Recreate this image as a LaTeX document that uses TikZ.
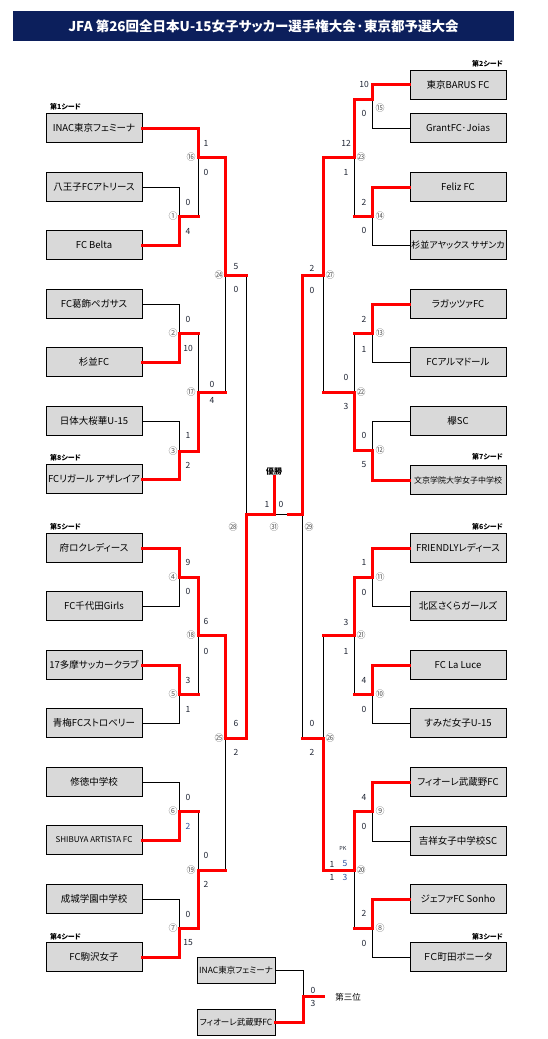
\documentclass[tikz,border=0pt]{standalone}
\usepackage{fontspec}
\setmainfont{Noto Sans CJK JP}[RawFeature=+palt]
\usepackage{tikz}
\usetikzlibrary{positioning, calc}
\definecolor{TitleNavy}{HTML}{0C1F5C}
\definecolor{BoxGray}{HTML}{D9D9D9}
\definecolor{WinRed}{HTML}{FF0000}
\definecolor{NoGray}{HTML}{5E5E5E}
\definecolor{ScoreInk}{HTML}{1E2433}
\definecolor{ScoreBlue}{HTML}{2A4FA0}

\begin{document}
\begin{tikzpicture}[x=1pt, y=-1pt,
    team/.style={draw=black, line width=0.8pt, fill=BoxGray, minimum width=96pt,
        minimum height=29pt, inner sep=0pt, font=\fontsize{9.5}{11}\selectfont},
    win/.style={draw=WinRed, line width=3pt, line cap=rect},
    lose/.style={draw=black, line width=0.9pt},
    score/.style={inner sep=0pt, font=\fontsize{8.5}{10}\selectfont, text=ScoreInk},
    matchno/.style={inner sep=0pt, font=\fontsize{9}{10}\selectfont, text=NoGray},
    seed/.style={inner sep=0pt, font=\bfseries\fontsize{7}{8}\selectfont}]

    \useasboundingbox (0,0) rectangle (548,1039);

    % === Title bar ===
    \node[fill=TitleNavy, text=white, minimum width=501pt, minimum height=30pt, inner sep=0pt,
        font=\bfseries\fontsize{13.5}{16}\selectfont] (title) at (263.5,26)
        {JFA 第26回全日本U-15女子サッカー選手権大会·東京都予選大会};

    % === Left half: teams ===
    \node[team] (L1) at (94,128) {INAC東京フェミーナ};
    \node[team] (L2) at (94,187) {八王子FCアトリース};
    \node[team] (L3) at (94,245) {FC Belta};
    \node[team] (L4) at (94,304) {FC葛飾ペガサス};
    \node[team] (L5) at (94,362) {杉並FC};
    \node[team] (L6) at (94,421) {日体大桜華U-15};
    \node[team] (L7) at (94,479) {FCリガール アザレイア};
    \node[team] (L8) at (94,548) {府ロクレディース};
    \node[team] (L9) at (94,606) {FC千代田Girls};
    \node[team] (L10) at (94,665) {17多摩サッカークラブ};
    \node[team] (L11) at (94,723) {青梅FCストロベリー};
    \node[team] (L12) at (94,782) {修徳中学校};
    \node[team, font=\fontsize{8}{10}\selectfont] (L13) at (94,840) {SHIBUYA ARTISTA FC};
    \node[team] (L14) at (94,899) {成城学園中学校};
    \node[team] (L15) at (94,957) {FC駒沢女子};

    % === Right half: teams ===
    \node[team] (R1) at (458,84.5) {東京BARUS FC};
    \node[team] (R2) at (458,128) {GrantFC·Joias};
    \node[team] (R3) at (458,187) {Feliz FC};
    \node[team, font=\fontsize{9}{11}\selectfont] (R4) at (458,245) {杉並アヤックス サザンカ};
    \node[team] (R5) at (458,304) {ラガッツァFC};
    \node[team] (R6) at (458,362) {FCアルマドール};
    \node[team] (R7) at (458,421) {欅SC};
    \node[team, font=\fontsize{8}{10}\selectfont] (R8) at (458,480) {文京学院大学女子中学校};
    \node[team] (R9) at (458,548) {FRIENDLYレディース};
    \node[team] (R10) at (458,606) {北区さくらガールズ};
    \node[team] (R11) at (458,665) {FC La Luce};
    \node[team] (R12) at (458,723) {すみだ女子U-15};
    \node[team] (R13) at (458,782) {フィオーレ武蔵野FC};
    \node[team] (R14) at (458,841) {吉祥女子中学校SC};
    \node[team] (R15) at (458,899) {ジェファFC Sonho};
    \node[team] (R16) at (458,957) {ＦＣ町田ボニータ};

    % === Third place teams ===
    \node[team, minimum width=78pt, minimum height=26pt, font=\fontsize{8.5}{10}\selectfont] (T1) at (236,970) {INAC東京フェミーナ};
    \node[team, minimum width=78pt, minimum height=26pt, font=\fontsize{8.5}{10}\selectfont] (T2) at (236,1022) {フィオーレ武蔵野FC};

    % === Seeds ===
    \node[seed, anchor=west] (s1) at (50,107) {第1シード};
    \node[seed, anchor=west] (s8) at (50,458) {第8シード};
    \node[seed, anchor=west] (s5) at (50,527) {第5シード};
    \node[seed, anchor=west] (s4) at (50,937) {第4シード};
    \node[seed, anchor=east] (s2) at (503,64) {第2シード};
    \node[seed, anchor=east] (s7) at (503,457) {第7シード};
    \node[seed, anchor=east] (s6) at (503,527) {第6シード};
    \node[seed, anchor=east] (s3) at (503,937) {第3シード};

    % === Match joints ===
    \coordinate (m1) at (179,216);
    \coordinate (m2) at (179,333);
    \coordinate (m3) at (179,451);
    \coordinate (m4) at (179,577);
    \coordinate (m5) at (179,694);
    \coordinate (m6) at (179,811);
    \coordinate (m7) at (179,928);
    \coordinate (m16) at (198,157);
    \coordinate (m17) at (198,392);
    \coordinate (m18) at (198,635);
    \coordinate (m19) at (198,870);
    \coordinate (m24) at (225,275);
    \coordinate (m25) at (225,738);
    \coordinate (m28) at (246,514);
    \coordinate (m15) at (372,99);
    \coordinate (m14) at (372,216);
    \coordinate (m13) at (372,333);
    \coordinate (m12) at (372,450);
    \coordinate (m11) at (372,577);
    \coordinate (m10) at (372,694);
    \coordinate (m9) at (372,811);
    \coordinate (m8) at (372,928);
    \coordinate (m23) at (354,157);
    \coordinate (m22) at (354,392);
    \coordinate (m21) at (354,635);
    \coordinate (m20) at (354,870);
    \coordinate (m27) at (323,275);
    \coordinate (m26) at (323,738);
    \coordinate (m29) at (302,514);
    \coordinate (m31) at (274,514);
    \coordinate (split) at (288,514);
    \coordinate (m30) at (303,996);
    \coordinate (bronze) at (323,996);

    % Champion label
    \node[inner sep=1pt, font=\bfseries\fontsize{8}{9}\selectfont] (champ) at (274,471) {優勝};

    % === Losing lines ===
    \draw[lose] (L2.east) -| (m1);
    \draw[lose] (L4.east) -| (m2);
    \draw[lose] (L6.east) -| (m3);
    \draw[lose] (L9.east) -| (m4);
    \draw[lose] (L11.east) -| (m5);
    \draw[lose] (L12.east) -| (m6);
    \draw[lose] (L14.east) -| (m7);
    \draw[lose] (m1 -| m16) -- (m16);
    \draw[lose] (m2 -| m17) -- (m17);
    \draw[lose] (m5 -| m18) -- (m18);
    \draw[lose] (m6 -| m19) -- (m19);
    \draw[lose] (m17 -| m24) -- (m24);
    \draw[lose] (m19 -| m25) -- (m25);
    \draw[lose] (m24 -| m28) -- (m28);
    \draw[lose] (R2.west) -| (m15);
    \draw[lose] (R4.west) -| (m14);
    \draw[lose] (R6.west) -| (m13);
    \draw[lose] (R7.west) -| (m12);
    \draw[lose] (R10.west) -| (m11);
    \draw[lose] (R12.west) -| (m10);
    \draw[lose] (R14.west) -| (m9);
    \draw[lose] (R16.west) -| (m8);
    \draw[lose] (m14 -| m23) -- (m23);
    \draw[lose] (m13 -| m22) -- (m22);
    \draw[lose] (m10 -| m21) -- (m21);
    \draw[lose] (m8 -| m20) -- (m20);
    \draw[lose] (m22 -| m27) -- (m27);
    \draw[lose] (m21 -| m26) -- (m26);
    \draw[lose] (m26 -| m29) -- (m29);
    \draw[lose] (m31) -- (split);
    \draw[lose] (T1.east) -| (m30);

    % === Winning lines ===
    \draw[win] (L1.east) -| (m16);
    \draw[win] (L3.east) -| (m1) -- (m1 -| m16);
    \draw[win] (L5.east) -| (m2) -- (m2 -| m17);
    \draw[win] (L7.east) -| (m3) -| (m17);
    \draw[win] (L8.east) -| (m4) -| (m18);
    \draw[win] (L10.east) -| (m5) -- (m5 -| m18);
    \draw[win] (L13.east) -| (m6) -- (m6 -| m19);
    \draw[win] (L15.east) -| (m7) -| (m19);
    \draw[win] (m16) -| (m24);
    \draw[win] (m17) -- (m17 -| m24);
    \draw[win] (m18) -| (m25);
    \draw[win] (m19) -- (m19 -| m25);
    \draw[win] (m24) -- (m24 -| m28);
    \draw[win] (m25) -| (m28) -- (m31) -- (champ.south);
    \draw[win] (R1.west) -| (m15) -| (m23);
    \draw[win] (R3.west) -| (m14) -- (m14 -| m23);
    \draw[win] (R5.west) -| (m13) -- (m13 -| m22);
    \draw[win] (R8.west) -| (m12) -| (m22);
    \draw[win] (R9.west) -| (m11) -| (m21);
    \draw[win] (R11.west) -| (m10) -- (m10 -| m21);
    \draw[win] (R13.west) -| (m9) -| (m20);
    \draw[win] (R15.west) -| (m8) -- (m8 -| m20);
    \draw[win] (m23) -| (m27);
    \draw[win] (m22) -- (m22 -| m27);
    \draw[win] (m21) -- (m21 -| m26);
    \draw[win] (m20) -| (m26);
    \draw[win] (m27) -| (m29) -- (split);
    \draw[win] (m26) -- (m26 -| m29);
    \draw[win] (T2.east) -| (m30) -- (bronze);

    % === Match numbers ===
    \node[matchno] (n1) at (173,216) {①};
    \node[matchno] (n2) at (173,333) {②};
    \node[matchno] (n3) at (173,451) {③};
    \node[matchno] (n4) at (173,577) {④};
    \node[matchno] (n5) at (173,694) {⑤};
    \node[matchno] (n6) at (173,811) {⑥};
    \node[matchno] (n7) at (173,928) {⑦};
    \node[matchno] (n16) at (191,157) {⑯};
    \node[matchno] (n17) at (191,392) {⑰};
    \node[matchno] (n18) at (191,635) {⑱};
    \node[matchno] (n19) at (191,870) {⑲};
    \node[matchno] (n24) at (219,275) {㉔};
    \node[matchno] (n25) at (219,738) {㉕};
    \node[matchno] (n28) at (233,527) {㉘};
    \node[matchno] (n31) at (274,527) {㉛};
    \node[matchno] (n29) at (309,527) {㉙};
    \node[matchno] (n15) at (380,108) {⑮};
    \node[matchno] (n14) at (380,216) {⑭};
    \node[matchno] (n13) at (380,333) {⑬};
    \node[matchno] (n12) at (380,450) {⑫};
    \node[matchno] (n11) at (380,577) {⑪};
    \node[matchno] (n10) at (380,694) {⑩};
    \node[matchno] (n9) at (380,811) {⑨};
    \node[matchno] (n8) at (380,928) {⑧};
    \node[matchno] (n23) at (361,157) {㉓};
    \node[matchno] (n22) at (361,392) {㉒};
    \node[matchno] (n21) at (361,635) {㉑};
    \node[matchno] (n20) at (361,870) {⑳};
    \node[matchno] (n27) at (330,275) {㉗};
    \node[matchno] (n26) at (330,738) {㉖};

    % === Scores, left ===
    \node[score] (c1a) at (188,202) {0};
    \node[score] (c1b) at (188,231) {4};
    \node[score] (c2a) at (188,319) {0};
    \node[score] (c2b) at (188,348) {10};
    \node[score] (c3a) at (188,435) {1};
    \node[score] (c3b) at (188,465) {2};
    \node[score] (c4a) at (188,562) {9};
    \node[score] (c4b) at (188,591) {0};
    \node[score] (c5a) at (188,680) {3};
    \node[score] (c5b) at (188,709) {1};
    \node[score] (c6a) at (188,797) {0};
    \node[score, text=ScoreBlue] (c6b) at (188,826) {2};
    \node[score] (c7a) at (188,914) {0};
    \node[score] (c7b) at (188,943) {15};
    \node[score] (c16a) at (206,143) {1};
    \node[score] (c16b) at (206,172) {0};
    \node[score] (c17a) at (212,384) {0};
    \node[score] (c17b) at (212,400) {4};
    \node[score] (c18a) at (206,621) {6};
    \node[score] (c18b) at (206,651) {0};
    \node[score] (c19a) at (206,855) {0};
    \node[score] (c19b) at (206,884) {2};
    \node[score] (c24a) at (236,267) {5};
    \node[score] (c24b) at (236,289) {0};
    \node[score] (c25a) at (236,723) {6};
    \node[score] (c25b) at (236,752) {2};
    \node[score] (c31a) at (267,504) {1};
    \node[score] (c31b) at (281,504) {0};

    % === Scores, right ===
    \node[score] (c15a) at (364,84) {10};
    \node[score] (c15b) at (364,113) {0};
    \node[score] (c14a) at (364,202) {2};
    \node[score] (c14b) at (364,230) {0};
    \node[score] (c13a) at (364,319) {2};
    \node[score] (c13b) at (364,349) {1};
    \node[score] (c12a) at (364,435) {0};
    \node[score] (c12b) at (364,465) {5};
    \node[score] (c11a) at (364,562) {1};
    \node[score] (c11b) at (364,592) {0};
    \node[score] (c10a) at (364,680) {4};
    \node[score] (c10b) at (364,709) {0};
    \node[score] (c9a) at (364,797) {4};
    \node[score] (c9b) at (364,826) {0};
    \node[score] (c8a) at (364,913) {2};
    \node[score] (c8b) at (364,943) {0};
    \node[score] (c23a) at (346,143) {12};
    \node[score] (c23b) at (346,172) {1};
    \node[score] (c22a) at (346,377) {0};
    \node[score] (c22b) at (346,406) {3};
    \node[score] (c21a) at (346,622) {3};
    \node[score] (c21b) at (346,651) {1};
    \node[score, font=\fontsize{5.5}{6}\selectfont] (pk) at (343,848) {PK};
    \node[score] (c20a) at (332,864) {1};
    \node[score, text=ScoreBlue] (c20p) at (345,864) {5};
    \node[score] (c20b) at (332,877) {1};
    \node[score, text=ScoreBlue] (c20q) at (345,877) {3};
    \node[score] (c27a) at (312,268) {2};
    \node[score] (c27b) at (312,290) {0};
    \node[score] (c26a) at (312,723) {0};
    \node[score] (c26b) at (312,752) {2};

    % === Third place ===
    \node[score] (c30a) at (313,990) {0};
    \node[score] (c30b) at (313,1003) {3};
    \node[font=\fontsize{8.5}{10}\selectfont, inner sep=0pt] (third) at (348,997) {第三位};

\end{tikzpicture}
\end{document}
